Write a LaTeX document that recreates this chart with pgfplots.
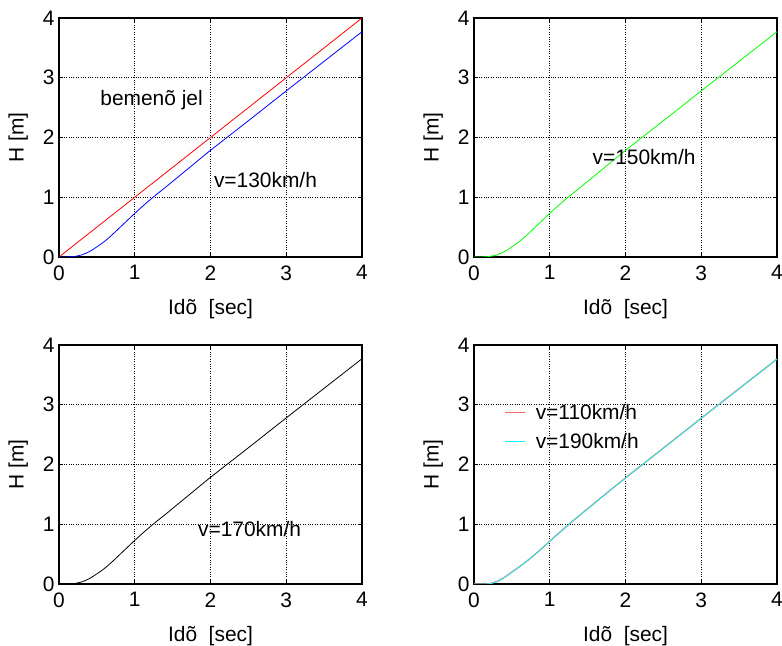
\documentclass[border=0pt]{standalone}
\usepackage{fontspec}
\setmainfont{Liberation Sans}
\usepackage{pgfplots}
\usepackage{pgfplotstable}
\pgfplotsset{compat=1.18}
\pgfplotstableread{
t h
0 0
0.1 0
0.2 0.008
0.3 0.035
0.4 0.09
0.5 0.17
0.6 0.26
0.7 0.37
0.8 0.49
0.9 0.61
1.0 0.73
1.1 0.845
1.2 0.955
1.3 1.06
1.4 1.16
1.5 1.265
1.75 1.525
2.0 1.785
2.5 2.28
3.0 2.78
3.5 3.275
4.0 3.77
}\resp
\pgfplotstableread{
t h
0 0
0.15 0
0.2 0.005
0.3 0.04
0.4 0.11
0.5 0.2
0.6 0.29
0.7 0.385
0.8 0.49
0.9 0.60
1.0 0.715
1.1 0.83
1.2 0.94
1.3 1.05
1.4 1.155
1.5 1.26
1.75 1.52
2.0 1.775
2.5 2.275
3.0 2.775
3.5 3.27
4.0 3.765
}\respc
\pgfplotstableread{
t h
0 0
0.17 0
0.2 0.003
0.3 0.037
0.4 0.107
0.5 0.197
0.6 0.288
0.7 0.383
0.8 0.488
0.9 0.598
1.0 0.713
1.1 0.828
1.2 0.938
1.3 1.048
1.4 1.153
1.5 1.258
1.75 1.518
2.0 1.773
2.5 2.273
3.0 2.773
3.5 3.268
4.0 3.763
}\respd
\pgfplotstableread{
t h
0 0
1 1
2 2
3 3
4 4
}\inputsig
\definecolor{mred}{RGB}{255,0,0}
\definecolor{mblue}{RGB}{0,0,255}
\definecolor{mgreen}{RGB}{0,255,0}
\definecolor{mcyan}{RGB}{0,255,255}
\definecolor{lred}{RGB}{255,100,100}
\newcommand{\ff}{\fontsize{21}{24}\selectfont}
\pgfplotsset{
  mystyle/.style={
    scale only axis, width=303bp, height=239bp,
    xmin=0,xmax=4,ymin=0,ymax=4,
    xtick={0,1,2,3,4}, ytick={0,1,2,3,4},
    grid=major, major grid style={black, dotted, line width=0.6pt},
    axis line style={line width=1.6pt},
    tickpos=both, tick align=inside, major tick length=4bp,
    tick style={black, line width=0.6pt},
    tick label style={font=\ff},
    xticklabel style={yshift=-5bp},
    yticklabel style={xshift=-1bp},
    /pgf/number format/assume math mode=true,
    label style={font=\ff},
    xlabel={Idõ\ \ [sec]}, ylabel={H [m]},
    xlabel style={yshift=-12bp},
    ylabel style={yshift=8bp},
    every axis plot/.append style={line width=0.8pt, smooth},
  }
}
\begin{document}
\begin{tikzpicture}
\useasboundingbox (0,0) rectangle (782bp,646bp);
\begin{axis}[mystyle, at={(59bp,389bp)}, anchor=south west]
\addplot[mred, no marks] table[x=t,y=h] {\inputsig};
\addplot[mblue, no marks] table[x=t,y=h] {\resp};
\node[anchor=west, font=\ff] at (axis cs:0.5,2.63) {bemenõ jel};
\node[anchor=west, font=\ff] at (axis cs:2.0,1.29) {v=130km/h};
\end{axis}
\begin{axis}[mystyle, at={(474bp,389bp)}, anchor=south west]
\addplot[mgreen, no marks] table[x=t,y=h] {\resp};
\node[anchor=west, font=\ff] at (axis cs:1.52,1.67) {v=150km/h};
\end{axis}
\begin{axis}[mystyle, at={(59bp,62bp)}, anchor=south west]
\addplot[black, no marks] table[x=t,y=h] {\resp};
\node[anchor=west, font=\ff] at (axis cs:1.79,0.92) {v=170km/h};
\end{axis}
\begin{axis}[mystyle, at={(474bp,62bp)}, anchor=south west,
  legend style={draw=none, fill=none, at={(0.09,0.765)}, anchor=north west,
    font=\ff, row sep=10bp,
    nodes={inner sep=1bp},
    /tikz/every odd column/.append style={column sep=9bp}},
  legend cell align=left,
  legend image code/.code={\draw[#1] (0bp,0bp) -- (20bp,0bp);}]
\addplot[lred, no marks, line width=1.3pt] table[x=t,y=h] {\respc};
\addlegendentry{v=110km/h}
\addplot[mcyan, no marks] table[x=t,y=h] {\respd};
\addlegendentry{v=190km/h}
\end{axis}
\end{tikzpicture}
\end{document}
